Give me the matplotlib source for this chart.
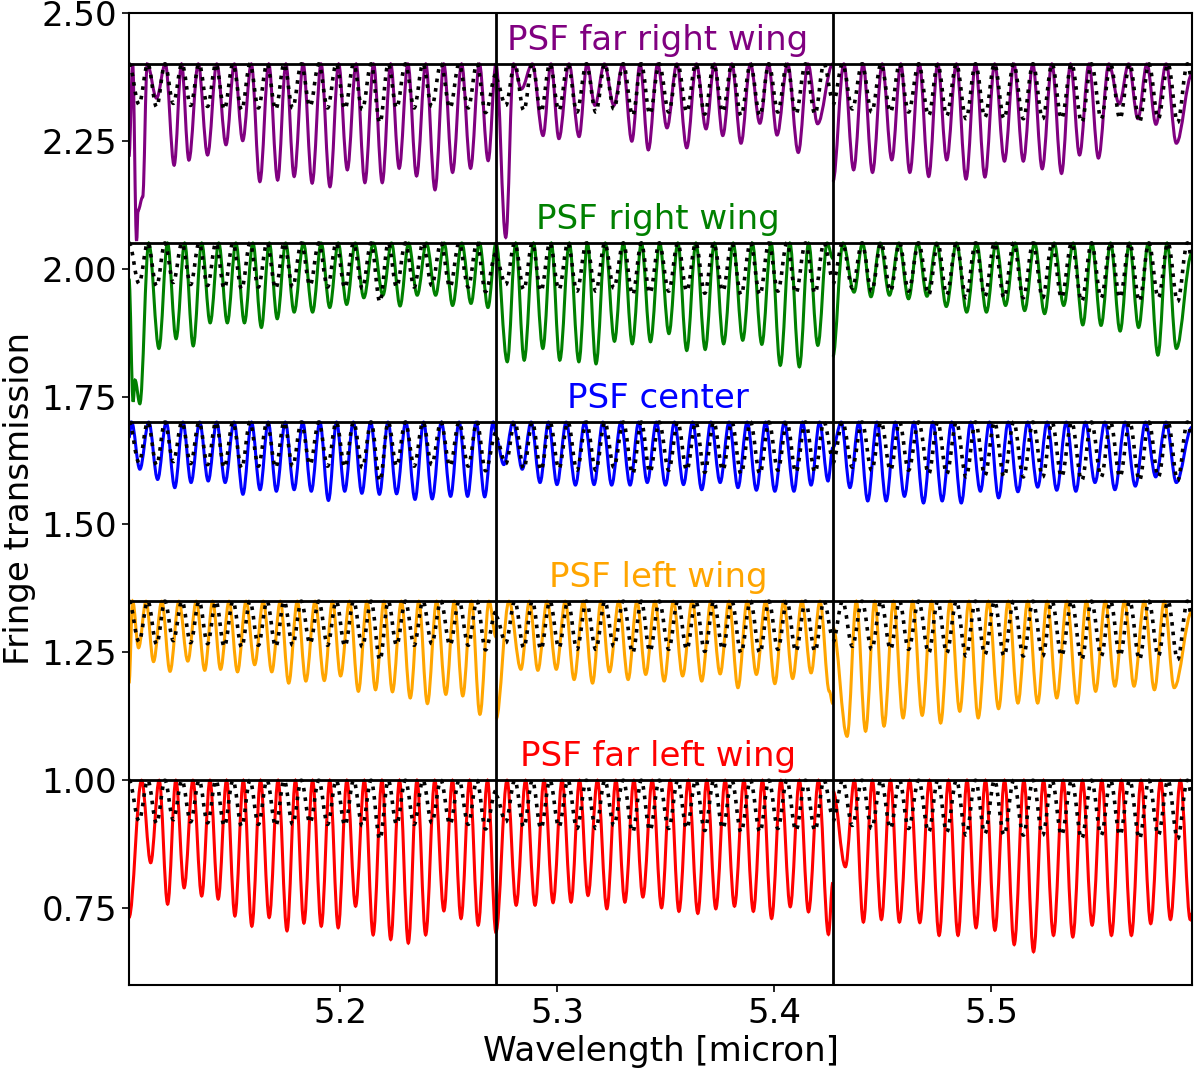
import matplotlib
matplotlib.use("Agg")
import matplotlib.pyplot as plt
from matplotlib.path import Path
from matplotlib.patches import PathPatch
from matplotlib.transforms import blended_transform_factory

plt.rcParams['font.family'] = ['DejaVu Sans']
plt.rcParams['font.size'] = 24.5

# ---------------- data ----------------
panel_edges = [5.1028, 5.2719, 5.4271, 5.5926]
y_limits = [0.6, 2.5]
peak_level = 1.0

series_names = ["PSF far right wing", "PSF right wing", "PSF center",
                "PSF left wing", "PSF far left wing"]
series_colors = ["purple", "green", "blue", "orange", "red"]
series_offsets = [1.4, 1.05, 0.7, 0.35, 0.0]

# --- PSF far right wing (purple) ---
purple_lead = [[(5.1028, 0.819), (5.1045, 1.0), (5.1063, 0.654), (5.1070, 0.714), (5.1091, 0.74), (5.1112, 1.0)],
               [(5.2719, 1.0)],
               [(5.4271, 0.769), (5.4322, 1.0)]]
purple_tail = [[(5.2719, 1.0)], [(5.4271, 1.0)], [(5.5926, 0.98)]]
purple_trough_wl = [
    [5.1155, 5.1236, 5.1304, 5.1390, 5.1475, 5.1552, 5.1631, 5.1713, 5.1789, 5.1872,
     5.1954, 5.2034, 5.2115, 5.2195, 5.2273, 5.2353, 5.2438, 5.2519, 5.2602, 5.2683],
    [5.2764, 5.2836, 5.2936, 5.3009, 5.3102, 5.3175, 5.3262, 5.3345, 5.3421, 5.3507,
     5.3598, 5.3687, 5.3764, 5.3848, 5.3935, 5.4014, 5.4112, 5.4201],
    [5.4367, 5.4454, 5.4543, 5.4626, 5.4713, 5.4796, 5.4885, 5.4972, 5.5062, 5.5149,
     5.5236, 5.5325, 5.5408, 5.5495, 5.5591, 5.5677, 5.5760, 5.5854]]
purple_trough_val = [
    [0.933, 0.802, 0.812, 0.822, 0.842, 0.850, 0.770, 0.773, 0.780, 0.767,
     0.760, 0.793, 0.768, 0.768, 0.796, 0.781, 0.754, 0.788, 0.796, 0.811],
    [0.661, 0.951, 0.860, 0.854, 0.858, 0.919, 0.919, 0.849, 0.832, 0.875,
     0.836, 0.873, 0.860, 0.845, 0.884, 0.861, 0.827, 0.883],
    [0.793, 0.788, 0.8125, 0.788, 0.780, 0.8125, 0.775, 0.779, 0.810, 0.810,
     0.795, 0.786, 0.822, 0.816, 0.922, 0.893, 0.882, 0.845]]

# --- PSF right wing (green) ---
green_lead = [[(5.1028, 0.93), (5.1047, 0.69), (5.1056, 0.732), (5.1078, 0.686), (5.1119, 1.0)],
              [(5.2719, 1.0)],
              [(5.4271, 0.777), (5.4318, 1.0)]]
green_tail = [[(5.2719, 1.0)], [(5.4245, 1.0), (5.4271, 0.97)], [(5.5926, 0.98)]]
green_trough_wl = [
    [5.1166, 5.1245, 5.1324, 5.1402, 5.1481, 5.1560, 5.1638, 5.1711, 5.1789, 5.1874,
     5.1953, 5.2031, 5.2110, 5.2198, 5.2277, 5.2356, 5.2441, 5.2519, 5.2604, 5.2682],
    [5.2771, 5.2849, 5.2935, 5.3013, 5.3101, 5.3180, 5.3265, 5.3347, 5.3431, 5.3516,
     5.3598, 5.3683, 5.3768, 5.3856, 5.3944, 5.4029, 5.4117, 5.4202],
    [5.4369, 5.4447, 5.4532, 5.4620, 5.4705, 5.4794, 5.4888, 5.4979, 5.5067, 5.5155,
     5.5247, 5.5335, 5.5423, 5.5507, 5.5595, 5.5680, 5.5769, 5.5854]]
green_trough_val = [
    [0.794, 0.813, 0.799, 0.844, 0.844, 0.844, 0.835, 0.852, 0.865, 0.865,
     0.874, 0.880, 0.893, 0.898, 0.877, 0.898, 0.898, 0.878, 0.882, 0.874],
    [0.768, 0.771, 0.794, 0.771, 0.768, 0.764, 0.808, 0.803, 0.807, 0.823,
     0.790, 0.792, 0.803, 0.810, 0.802, 0.761, 0.758, 0.800],
    [0.904, 0.895, 0.898, 0.891, 0.896, 0.876, 0.865, 0.865, 0.878, 0.868,
     0.862, 0.878, 0.840, 0.839, 0.828, 0.835, 0.781, 0.794]]

# --- PSF center (blue) ---
blue_lead = [[(5.1028, 0.97), (5.1040, 1.0)], [(5.2719, 0.97)], [(5.4271, 0.95), (5.4310, 1.0)]]
blue_tail = [[(5.2706, 1.0), (5.2719, 0.98)], [(5.4271, 0.95)], [(5.5926, 0.99)]]
blue_trough_wl = [
    [5.1078, 5.1160, 5.1239, 5.1314, 5.1393, 5.1471, 5.1553, 5.1632, 5.1707, 5.1789,
     5.1868, 5.1947, 5.2022, 5.2101, 5.2182, 5.2261, 5.2346, 5.2425, 5.2510, 5.2588, 5.2667],
    [5.2755, 5.2840, 5.2922, 5.3000, 5.3085, 5.3171, 5.3252, 5.3337, 5.3416, 5.3500,
     5.3583, 5.3667, 5.3752, 5.3834, 5.3919, 5.4004, 5.4092, 5.4171, 5.4249],
    [5.4350, 5.4432, 5.4517, 5.4601, 5.4689, 5.4775, 5.4863, 5.4951, 5.5035, 5.5124,
     5.5215, 5.5303, 5.5391, 5.5479, 5.5571, 5.5665, 5.5759, 5.5854]]
blue_trough_val = [
    [0.908, 0.888, 0.872, 0.882, 0.885, 0.882, 0.859, 0.868, 0.865, 0.868,
     0.865, 0.847, 0.865, 0.861, 0.859, 0.860, 0.849, 0.850, 0.855, 0.855, 0.854],
    [0.917, 0.908, 0.882, 0.878, 0.877, 0.878, 0.877, 0.877, 0.882, 0.877,
     0.878, 0.868, 0.882, 0.872, 0.867, 0.865, 0.865, 0.877, 0.885],
    [0.872, 0.846, 0.846, 0.855, 0.842, 0.846, 0.842, 0.865, 0.852, 0.864,
     0.873, 0.867, 0.865, 0.882, 0.868, 0.875, 0.893, 0.882]]

# --- PSF left wing (orange) ---
orange_lead = [[(5.1028, 0.84), (5.1045, 1.0)], [(5.2719, 0.769), (5.2779, 1.0)], [(5.4271, 0.95)]]
orange_tail = [[(5.2687, 1.0), (5.2719, 0.93)],
               [(5.4212, 1.0), (5.4255, 0.824), (5.4271, 0.80)],
               [(5.5926, 0.98)]]
orange_trough_wl = [
    [5.1072, 5.1141, 5.1217, 5.1299, 5.1377, 5.1450, 5.1528, 5.1607, 5.1686, 5.1764,
     5.1843, 5.1928, 5.2003, 5.2085, 5.2164, 5.2242, 5.2324, 5.2403, 5.2488, 5.2566, 5.2645],
    [5.2834, 5.2912, 5.2997, 5.3079, 5.3164, 5.3242, 5.3328, 5.3409, 5.3494, 5.3579,
     5.3667, 5.3752, 5.3834, 5.3919, 5.4004, 5.4086, 5.4171],
    [5.4337, 5.4422, 5.4507, 5.4595, 5.4683, 5.4768, 5.4856, 5.4941, 5.5035, 5.5124,
     5.5215, 5.5303, 5.5397, 5.5482, 5.5571, 5.5659, 5.5753, 5.5844]]
orange_trough_val = [
    [0.909, 0.882, 0.863, 0.883, 0.865, 0.867, 0.862, 0.876, 0.862, 0.840,
     0.844, 0.845, 0.854, 0.824, 0.827, 0.823, 0.811, 0.800, 0.818, 0.815, 0.779],
    [0.867, 0.865, 0.867, 0.847, 0.840, 0.862, 0.847, 0.857, 0.844, 0.854,
     0.844, 0.858, 0.831, 0.857, 0.839, 0.849, 0.860],
    [0.736, 0.746, 0.756, 0.772, 0.777, 0.762, 0.785, 0.772, 0.790, 0.801,
     0.801, 0.811, 0.801, 0.824, 0.834, 0.834, 0.827, 0.831]]

# --- PSF far left wing (red) ---
red_lead = [[(5.1028, 0.732), (5.1086, 1.0)], [(5.2719, 0.704), (5.2770, 1.0)], [(5.4271, 0.98)]]
red_tail = [[(5.2680, 1.0), (5.2719, 0.702)],
            [(5.4205, 1.0), (5.4251, 0.699), (5.4271, 0.80)],
            [(5.5926, 0.74)]]
red_trough_wl = [
    [5.1128, 5.1206, 5.1282, 5.1363, 5.1439, 5.1516, 5.1594, 5.1674, 5.1756, 5.1834,
     5.1914, 5.1992, 5.2072, 5.2153, 5.2234, 5.2315, 5.2395, 5.2479, 5.2558, 5.2637],
    [5.2812, 5.2899, 5.2982, 5.3065, 5.3143, 5.3230, 5.3313, 5.3396, 5.3482, 5.3562,
     5.3649, 5.3732, 5.3818, 5.3905, 5.3989, 5.4075, 5.4159],
    [5.4329, 5.4412, 5.4495, 5.4578, 5.4672, 5.4761, 5.4848, 5.4931, 5.5018, 5.5107,
     5.5196, 5.5288, 5.5377, 5.5466, 5.5555, 5.5647, 5.5736, 5.5827, 5.5918]]
red_trough_val = [
    [0.839, 0.758, 0.790, 0.774, 0.768, 0.735, 0.715, 0.732, 0.706, 0.721,
     0.715, 0.712, 0.754, 0.698, 0.689, 0.682, 0.698, 0.745, 0.730, 0.717],
    [0.756, 0.756, 0.761, 0.762, 0.775, 0.749, 0.762, 0.772, 0.751, 0.744,
     0.740, 0.749, 0.754, 0.744, 0.730, 0.753, 0.743],
    [0.831, 0.723, 0.728, 0.723, 0.722, 0.697, 0.697, 0.712, 0.707, 0.679,
     0.665, 0.697, 0.694, 0.717, 0.697, 0.697, 0.720, 0.728, 0.728]]

# --- dotted reference fringe model (same in every row) ---
model_lead = [[(5.1028, 1.0)], [(5.2719, 0.97)], [(5.4271, 0.92), (5.4316, 1.0)]]
model_tail = [[(5.2719, 0.98)], [(5.4230, 1.0), (5.4271, 0.93)], [(5.5905, 1.0), (5.5926, 0.97)]]
model_trough_wl = [
    [5.1074, 5.1155, 5.1232, 5.1312, 5.1390, 5.1467, 5.1547, 5.1624, 5.1704, 5.1782,
     5.1862, 5.1943, 5.2023, 5.2103, 5.2184, 5.2261, 5.2342, 5.2423, 5.2507, 5.2591, 5.2671],
    [5.2764, 5.2847, 5.2926, 5.3009, 5.3092, 5.3179, 5.3262, 5.3349, 5.3428, 5.3515,
     5.3598, 5.3681, 5.3764, 5.3848, 5.3935, 5.4018, 5.4101, 5.4189],
    [5.4361, 5.4450, 5.4537, 5.4620, 5.4713, 5.4796, 5.4885, 5.4972, 5.5060, 5.5149,
     5.5238, 5.5325, 5.5418, 5.5508, 5.5594, 5.5684, 5.5771, 5.5860]]
model_trough_val = [
    [0.921, 0.916, 0.923, 0.919, 0.917, 0.911, 0.910, 0.914, 0.911, 0.914,
     0.917, 0.914, 0.912, 0.911, 0.885, 0.914, 0.914, 0.917, 0.914, 0.914, 0.905],
    [0.919, 0.909, 0.906, 0.909, 0.906, 0.906, 0.912, 0.899, 0.902, 0.906,
     0.906, 0.902, 0.906, 0.899, 0.899, 0.906, 0.902, 0.902],
    [0.912, 0.906, 0.906, 0.906, 0.899, 0.899, 0.893, 0.896, 0.893, 0.893,
     0.893, 0.893, 0.886, 0.893, 0.893, 0.886, 0.893, 0.886]]

series_leads = [purple_lead, green_lead, blue_lead, orange_lead, red_lead]
series_tails = [purple_tail, green_tail, blue_tail, orange_tail, red_tail]
series_trough_wl = [purple_trough_wl, green_trough_wl, blue_trough_wl, orange_trough_wl, red_trough_wl]
series_trough_val = [purple_trough_val, green_trough_val, blue_trough_val, orange_trough_val, red_trough_val]


# ---------------- drawing helpers ----------------
def extrema(lead, trough_wl, trough_val, tail):
    pts = list(lead)
    for i, (w, v) in enumerate(zip(trough_wl, trough_val)):
        if i > 0:
            pts.append(((trough_wl[i - 1] + w) / 2.0, peak_level))
        pts.append((w, v))
    pts.extend(tail)
    return pts


def fringe_path(pts, offset):
    verts = [(pts[0][0], pts[0][1] + offset)]
    codes = [Path.MOVETO]
    for (x0, y0), (x1, y1) in zip(pts[:-1], pts[1:]):
        dx = (x1 - x0) * 0.36
        verts += [(x0 + dx, y0 + offset), (x1 - dx, y1 + offset), (x1, y1 + offset)]
        codes += [Path.CURVE4] * 3
    return Path(verts, codes)


fig = plt.figure(figsize=(12, 10.71), dpi=100)
ax = fig.add_axes([0.1075, 0.0803, 0.8858, 0.9078])
label_transform = blended_transform_factory(ax.transAxes, ax.transData)

for k in range(len(series_names)):
    off = series_offsets[k]
    for p in range(3):
        pts = extrema(series_leads[k][p], series_trough_wl[k][p],
                      series_trough_val[k][p], series_tails[k][p])
        ax.add_patch(PathPatch(fringe_path(pts, off), fill=False,
                               edgecolor=series_colors[k], lw=2.2, zorder=2,
                               transform=ax.transData))
        mpts = extrema(model_lead[p], model_trough_wl[p], model_trough_val[p], model_tail[p])
        ax.add_patch(PathPatch(fringe_path(mpts, off), fill=False,
                               edgecolor='black', lw=2.6, linestyle=':', zorder=3,
                               transform=ax.transData))
    ax.axhline(peak_level + off, color='black', lw=2.0, zorder=4)
    ax.text(0.4975, peak_level + off + 0.027, series_names[k], color=series_colors[k],
            ha='center', va='baseline', fontsize=24.5,
            transform=label_transform, zorder=5)

for edge in panel_edges[1:-1]:
    ax.axvline(edge, color='black', lw=2.0, zorder=4)

ax.set_xlim(panel_edges[0], panel_edges[-1])
ax.set_ylim(*y_limits)
ax.set_xticks([5.2, 5.3, 5.4, 5.5])
ax.set_yticks([0.75, 1.00, 1.25, 1.50, 1.75, 2.00, 2.25, 2.50])
ax.set_yticklabels(["0.75", "1.00", "1.25", "1.50", "1.75", "2.00", "2.25", "2.50"])
ax.tick_params(labelsize=24.5, length=5, width=1.2)
for s in ax.spines.values():
    s.set_linewidth(1.5)
ax.set_xlabel("Wavelength [micron]", fontsize=24.5)
ax.set_ylabel("Fringe transmission", fontsize=24.5)

fig.savefig("out.png", dpi=100)
